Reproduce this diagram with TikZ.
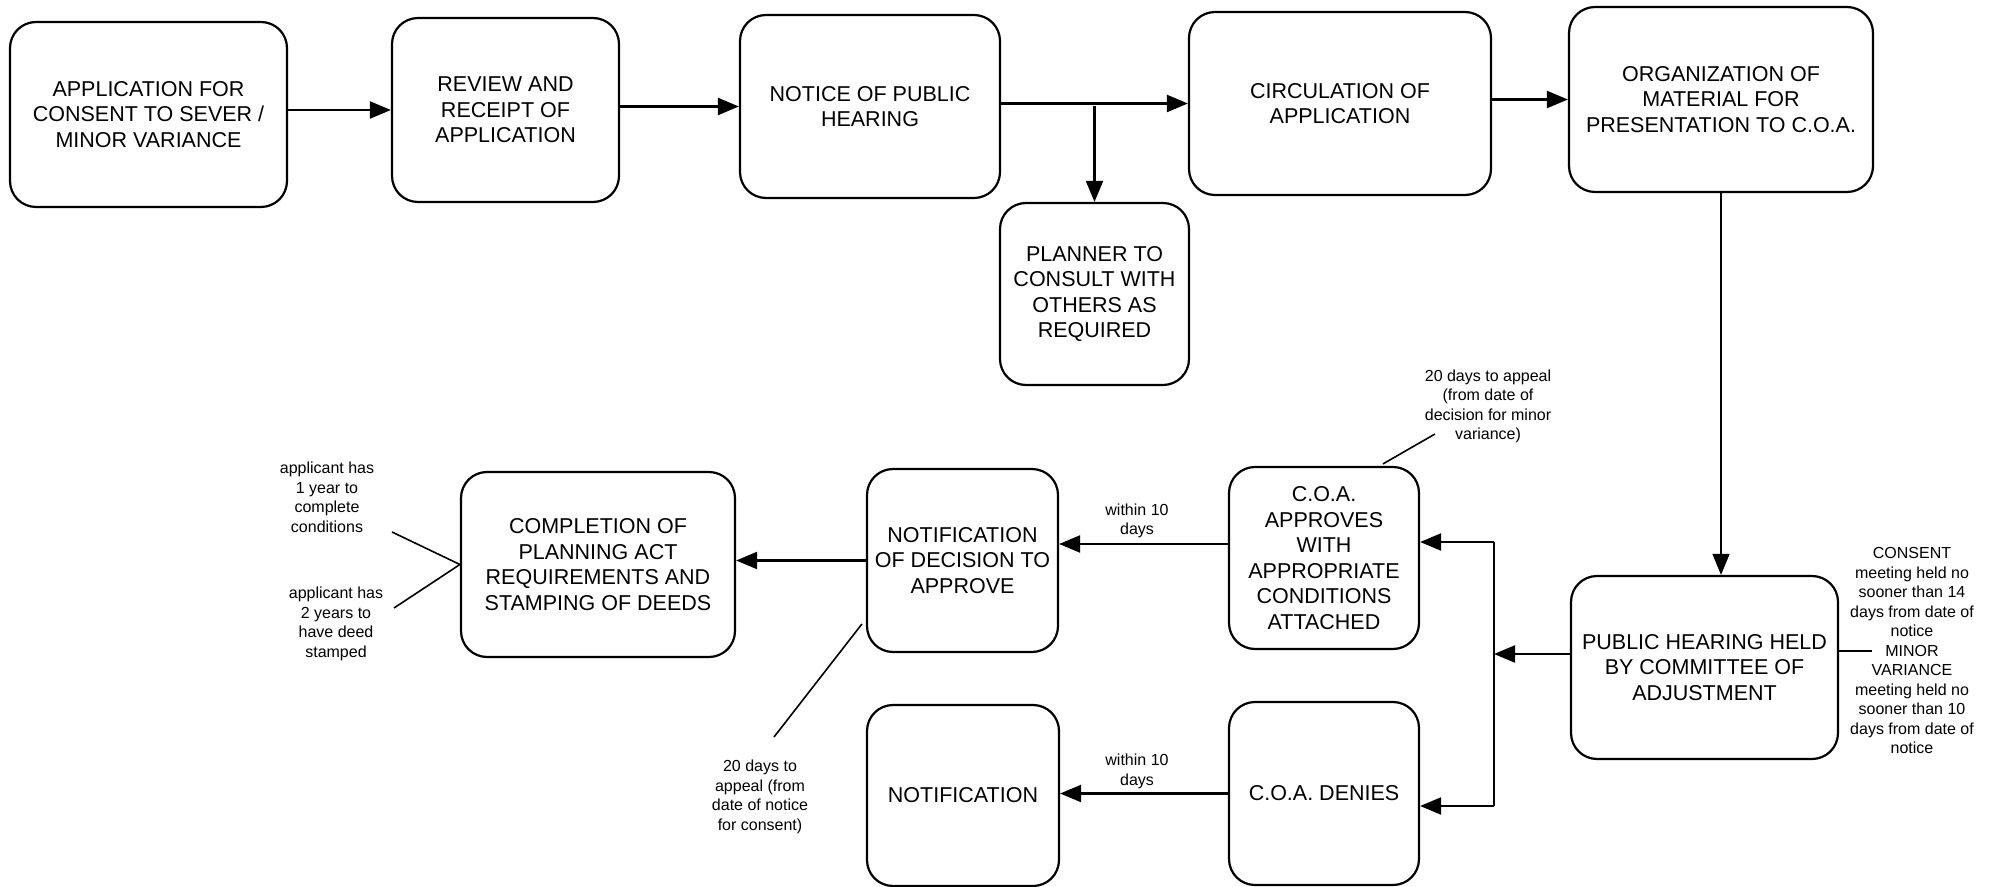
\documentclass[tikz,border=0pt]{standalone}
\usepackage{fontspec}
\setmainfont{Liberation Sans}
\usetikzlibrary{arrows.meta,calc}
\begin{document}
\begin{tikzpicture}[x=0.5pt,y=-0.5pt,
  box/.style={draw, line width=1.1pt, rounded corners=13pt, align=center, inner sep=2pt,
    font=\fontsize{10.75}{12.75}\selectfont},
  note/.style={align=center, inner sep=0pt, font=\fontsize{8}{9.75}\selectfont},
  arr/.style={line width=1.1pt, -{Triangle[length=10.5pt,width=8.5pt]}},
  link/.style={line width=1.1pt},
  lead/.style={line width=0.8pt}]
\fill[white] (0,0) rectangle (1991,887);
\useasboundingbox (0,0) rectangle (1991,887);

% top row
\node[box, minimum width=138.5pt, minimum height=92.5pt] (app) at (148.5,114.5)
  {APPLICATION FOR\\CONSENT TO SEVER /\\MINOR VARIANCE};
\node[box, minimum width=113.5pt, minimum height=92pt] (review) at (505.5,110)
  {REVIEW AND\\RECEIPT OF\\APPLICATION};
\node[box, minimum width=130pt, minimum height=91.5pt] (notice) at (870,106.5)
  {NOTICE OF PUBLIC\\HEARING};
\node[box, minimum width=94.5pt, minimum height=91pt] (planner) at (1094.5,294)
  {PLANNER TO\\CONSULT WITH\\OTHERS AS\\REQUIRED};
\node[box, minimum width=151pt, minimum height=91.5pt] (circ) at (1340,103.5)
  {CIRCULATION OF\\APPLICATION};
\node[box, minimum width=152pt, minimum height=92.5pt] (org) at (1721,99.5)
  {ORGANIZATION OF\\MATERIAL FOR\\PRESENTATION TO C.O.A.};

% bottom row
\node[box, minimum width=133.5pt, minimum height=91.5pt] (hearing) at (1704.5,667.5)
  {PUBLIC HEARING HELD\\BY COMMITTEE OF\\ADJUSTMENT};
\node[box, minimum width=95pt, minimum height=91pt] (coaA) at (1324,558)
  {C.O.A.\\APPROVES\\WITH\\APPROPRIATE\\CONDITIONS\\ATTACHED};
\node[box, minimum width=95pt, minimum height=91.5pt] (coaD) at (1324,793.5)
  {C.O.A. DENIES};
\node[box, minimum width=95.5pt, minimum height=91.5pt] (notifA) at (962.5,560.5)
  {NOTIFICATION\\OF DECISION TO\\APPROVE};
\node[box, minimum width=96pt, minimum height=90.5pt] (notifD) at (963,795.5)
  {NOTIFICATION};
\node[box, minimum width=137pt, minimum height=92.5pt] (comp) at (598,564.5)
  {COMPLETION OF\\PLANNING ACT\\REQUIREMENTS AND\\STAMPING OF DEEDS};

% side notes
\node[note] (n1y) at (327,497.5) {applicant has\\1 year to\\complete\\conditions};
\node[note] (n2y) at (336,624) {applicant has\\2 years to\\have deed\\stamped};
\node[note] (nConsent) at (760,797) {20 days to\\appeal (from\\date of notice\\for consent)};
\node[note] (nMinor) at (1488,406.5) {20 days to appeal\\(from date of\\decision for minor\\variance)};
\node[note] (nMeet) at (1912,650.5) {CONSENT\\meeting held no\\sooner than 14\\days from date of\\notice\\MINOR\\VARIANCE\\meeting held no\\sooner than 10\\days from date of\\notice};
\node[note] (w1) at (1137,521) {within 10\\days};
\node[note] (w2) at (1137,771.5) {within 10\\days};

% top flow
\draw[arr] (app.east |- review.west) -- (review.west);
\draw[arr] (review.east |- notice.west) -- (notice.west);
\draw[arr] (notice.east |- circ.west) -- (circ.west);
\draw[arr] (planner.north |- notice.east) -- (planner.north);
\draw[arr] (circ.east |- org.west) -- (org.west);
\draw[line width=0.75pt, -{Triangle[length=10.5pt,width=8.5pt]}]
  (org.south) -- (org.south |- hearing.north);

% decision branch
\coordinate (busT) at (1494,542);
\coordinate (busM) at (1494,654);
\coordinate (busB) at (1494,806);
\draw[link] (busT) -- (busB);
\draw[arr] (hearing.west |- busM) -- (busM);
\draw[arr] (busT) -- (busT -| coaA.east);
\draw[arr] (busB) -- (busB -| coaD.east);

% notifications
\draw[arr] ([yshift=7pt]coaA.west) coordinate (a1) -- (a1 -| notifA.east);
\draw[arr] (coaD.west) -- (coaD.west -| notifD.east);
\draw[arr] (notifA.west) -- (notifA.west -| comp.east);

% leader lines to notes
\coordinate (l1) at (392,532);
\coordinate (l2) at (394,608);
\draw[lead] (l1) -- (comp.west) -- (l2);
\coordinate (lc) at (774,737);
\draw[lead] ($(notifA.west)+(-4,63.5)$) -- (lc);
\coordinate (lm) at (1435,434);
\draw[lead] ($(coaA.north)+(59,-2)$) -- (lm);
\coordinate (lh) at (1872,651);
\draw[lead] ($(hearing.east)+(0,-16.5)$) -- (lh);
\end{tikzpicture}
\end{document}
